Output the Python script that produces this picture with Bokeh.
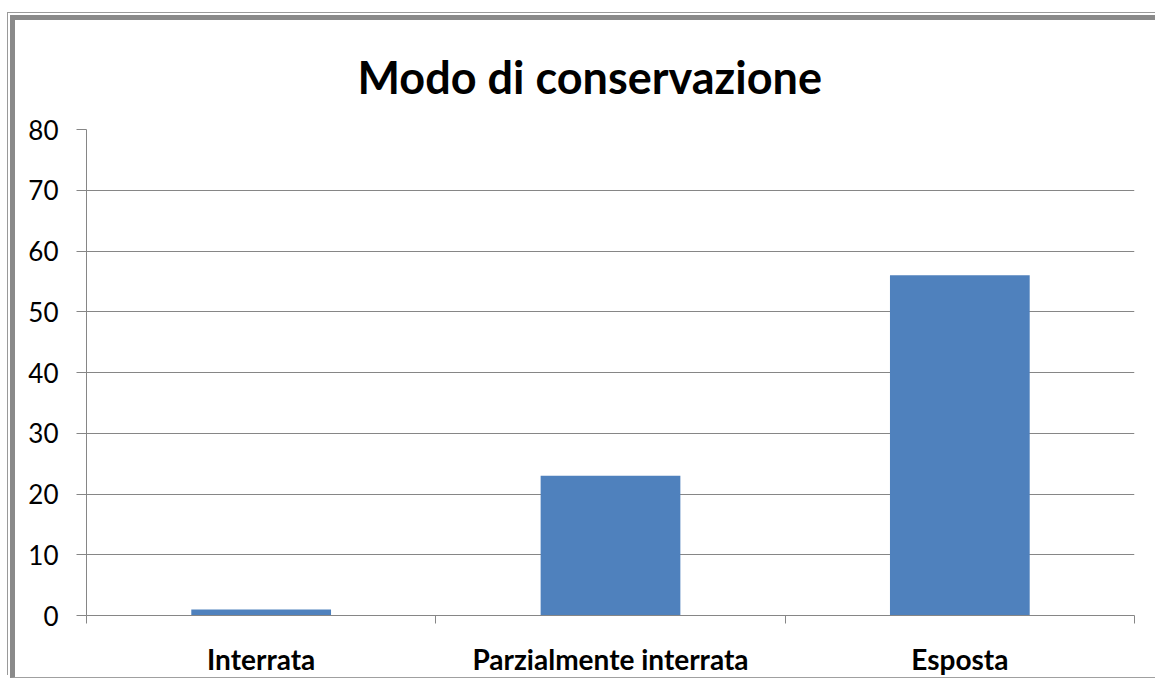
from bokeh.plotting import figure
from bokeh.models import FixedTicker, Range1d, Title
from bokeh.embed import file_html
from bokeh.resources import INLINE

categories = ["Interrata", "Parzialmente interrata", "Esposta"]
values = [1, 23, 56]
y_ticks = [0, 10, 20, 30, 40, 50, 60, 70, 80]
title_text = "Modo di conservazione"

FONT = "Lato"
GRID = "#868686"
BAR = "#4F81BD"

centers = [i + 0.5 for i in range(len(categories))]
bounds = [float(i) for i in range(len(categories) + 1)]

p = figure(width=1150, height=663, output_backend="svg", toolbar_location=None,
           x_range=Range1d(0, len(categories)), y_range=Range1d(0, 80),
           min_border_left=71, min_border_right=31, min_border_top=109, min_border_bottom=68,
           margin=(15, 0, 0, 10),
           styles={"border-left": "5px solid #8a8a8a", "border-top": "5px solid #8a8a8a",
                   "border-bottom": "1px solid #a0a0a0",
                   "box-shadow": "-2px -2px 0 0 #ffffff, -3px -3px 0 0 #9a9a9a"})
p.title = None
p.add_layout(Title(text=title_text, text_font=FONT, text_font_size="45px",
                   text_font_style="bold", text_color="black", align="left", offset=271,
                   vertical_align="top", standoff=48), "above")

p.vbar(x=centers, top=values, width=0.4, fill_color=BAR, line_color=None)

p.outline_line_color = None
p.background_fill_color = "white"
p.border_fill_color = "white"

p.xgrid.grid_line_color = None
p.ygrid.grid_line_color = GRID
p.ygrid.grid_line_width = 1
p.ygrid.ticker = FixedTicker(ticks=y_ticks)

xa = p.xaxis[0]
xa.ticker = FixedTicker(ticks=centers, minor_ticks=bounds)
xa.major_label_overrides = {c: cat for c, cat in zip(centers, categories)}
xa.major_tick_line_color = None
xa.major_tick_in = 0
xa.major_tick_out = 0
xa.minor_tick_line_color = GRID
xa.minor_tick_in = 0
xa.minor_tick_out = 8
xa.axis_line_color = GRID
xa.major_label_standoff = 18
xa.major_label_text_font = FONT
xa.major_label_text_font_size = "28px"
xa.major_label_text_font_style = "bold"
xa.major_label_text_color = "black"

ya = p.yaxis[0]
ya.ticker = FixedTicker(ticks=y_ticks)
ya.major_tick_line_color = GRID
ya.major_tick_in = 0
ya.major_tick_out = 10
ya.minor_tick_line_color = None
ya.axis_line_color = GRID
ya.major_label_standoff = 18
ya.major_label_text_font = FONT
ya.major_label_text_font_size = "26px"
ya.major_label_text_color = "black"

open("out.html", "w").write(file_html(p, INLINE))
